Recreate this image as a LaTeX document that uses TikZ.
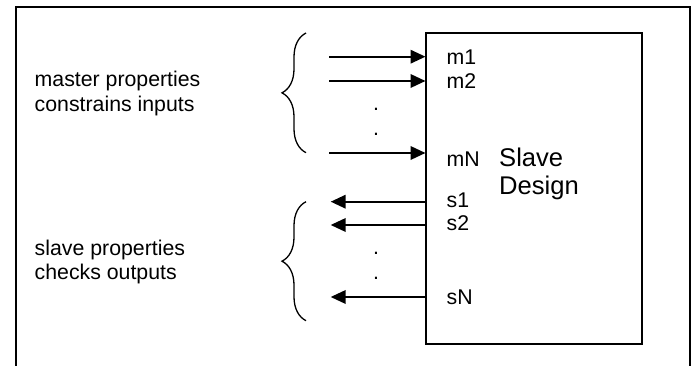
\documentclass[tikz,border=0pt]{standalone}
\usepackage{fontspec}
\setmainfont{Liberation Sans}
\usetikzlibrary{positioning, arrows.meta, decorations.pathreplacing}
\tikzset{
  outer/.style={line width=2pt},
  blk/.style={draw, line width=2pt, outer sep=0pt, inner sep=0pt},
  port/.style={inner sep=0pt, font=\fontsize{21.3}{24.7}\selectfont},
  note/.style={inner sep=0pt, align=left, font=\fontsize{21.3}{24.7}\selectfont},
  bigtext/.style={inner sep=0pt, align=left, font=\fontsize{25.6}{28.3}\selectfont},
  ellip/.style={inner sep=0pt, anchor=base, font=\fontsize{21.3}{24.7}\selectfont},
  arr/.style={-{Triangle[length=15pt, width=13.5pt]}, line width=2pt},
  curly/.style={decorate, decoration={brace, amplitude=24pt}, line width=1.3pt}
}

\begin{document}
\begin{tikzpicture}[x=1pt, y=1pt, node distance=21pt]
  \useasboundingbox (0,0) rectangle (694,366);
  \draw[outer] (15.7,0) -- (15.7,358.7) -- (690,358.7) -- (690,0);

  \node[blk, minimum width=216.2pt, minimum height=311pt] (slave) at (533.6,177.5) {};
  \node[bigtext, anchor=base west] (title) at (499,171) {Slave\\Design};

  % inputs
  \coordinate (m1) at (329,309.3);
  \coordinate (m2) at (329,285);
  \coordinate (mN) at (329,213);
  \coordinate (m1e) at (m1 -| slave.west);
  \coordinate (m2e) at (m2 -| slave.west);
  \coordinate (mNe) at (mN -| slave.west);
  \draw[arr] (m1) -- (m1e);
  \draw[arr] (m2) -- (m2e);
  \draw[arr] (mN) -- (mNe);
  \node[port, right=of m1e] (m1l) {m1};
  \node[port, right=of m2e] (m2l) {m2};
  \node[port, right=of mNe, yshift=-6pt] (mNl) {mN};

  % outputs
  \coordinate (s1) at (330.7,164.3);
  \coordinate (s2) at (330.7,141);
  \coordinate (sN) at (330.7,69);
  \coordinate (s1e) at (s1 -| slave.west);
  \coordinate (s2e) at (s2 -| slave.west);
  \coordinate (sNe) at (sN -| slave.west);
  \draw[arr] (s1e) -- (s1);
  \draw[arr] (s2e) -- (s2);
  \draw[arr] (sNe) -- (sN);
  \node[port, right=of s1e, yshift=1.5pt] (s1l) {s1};
  \node[port, right=of s2e, yshift=2pt] (s2l) {s2};
  \node[port, right=of sNe] (sNl) {sN};

  \node[ellip] (md1) at (376,255.3) {.};
  \node[ellip] (md2) at (376,230.3) {.};
  \node[ellip] (sd1) at (376,111.7) {.};
  \node[ellip] (sd2) at (376,86.7) {.};

  % braces and notes
  \coordinate (mtop) at (306,333);
  \coordinate (mbot) at (306,213.3);
  \coordinate (stop) at (306,164.3);
  \coordinate (sbot) at (306,45.3);
  \draw[curly] (mbot) -- (mtop);
  \draw[curly] (sbot) -- (stop);
  \node[note, anchor=base west] (mnote) at (34.5,254.3) {master properties\\constrains inputs};
  \node[note, anchor=base west] (snote) at (34.5,86) {slave properties\\checks outputs};
\end{tikzpicture}
\end{document}
